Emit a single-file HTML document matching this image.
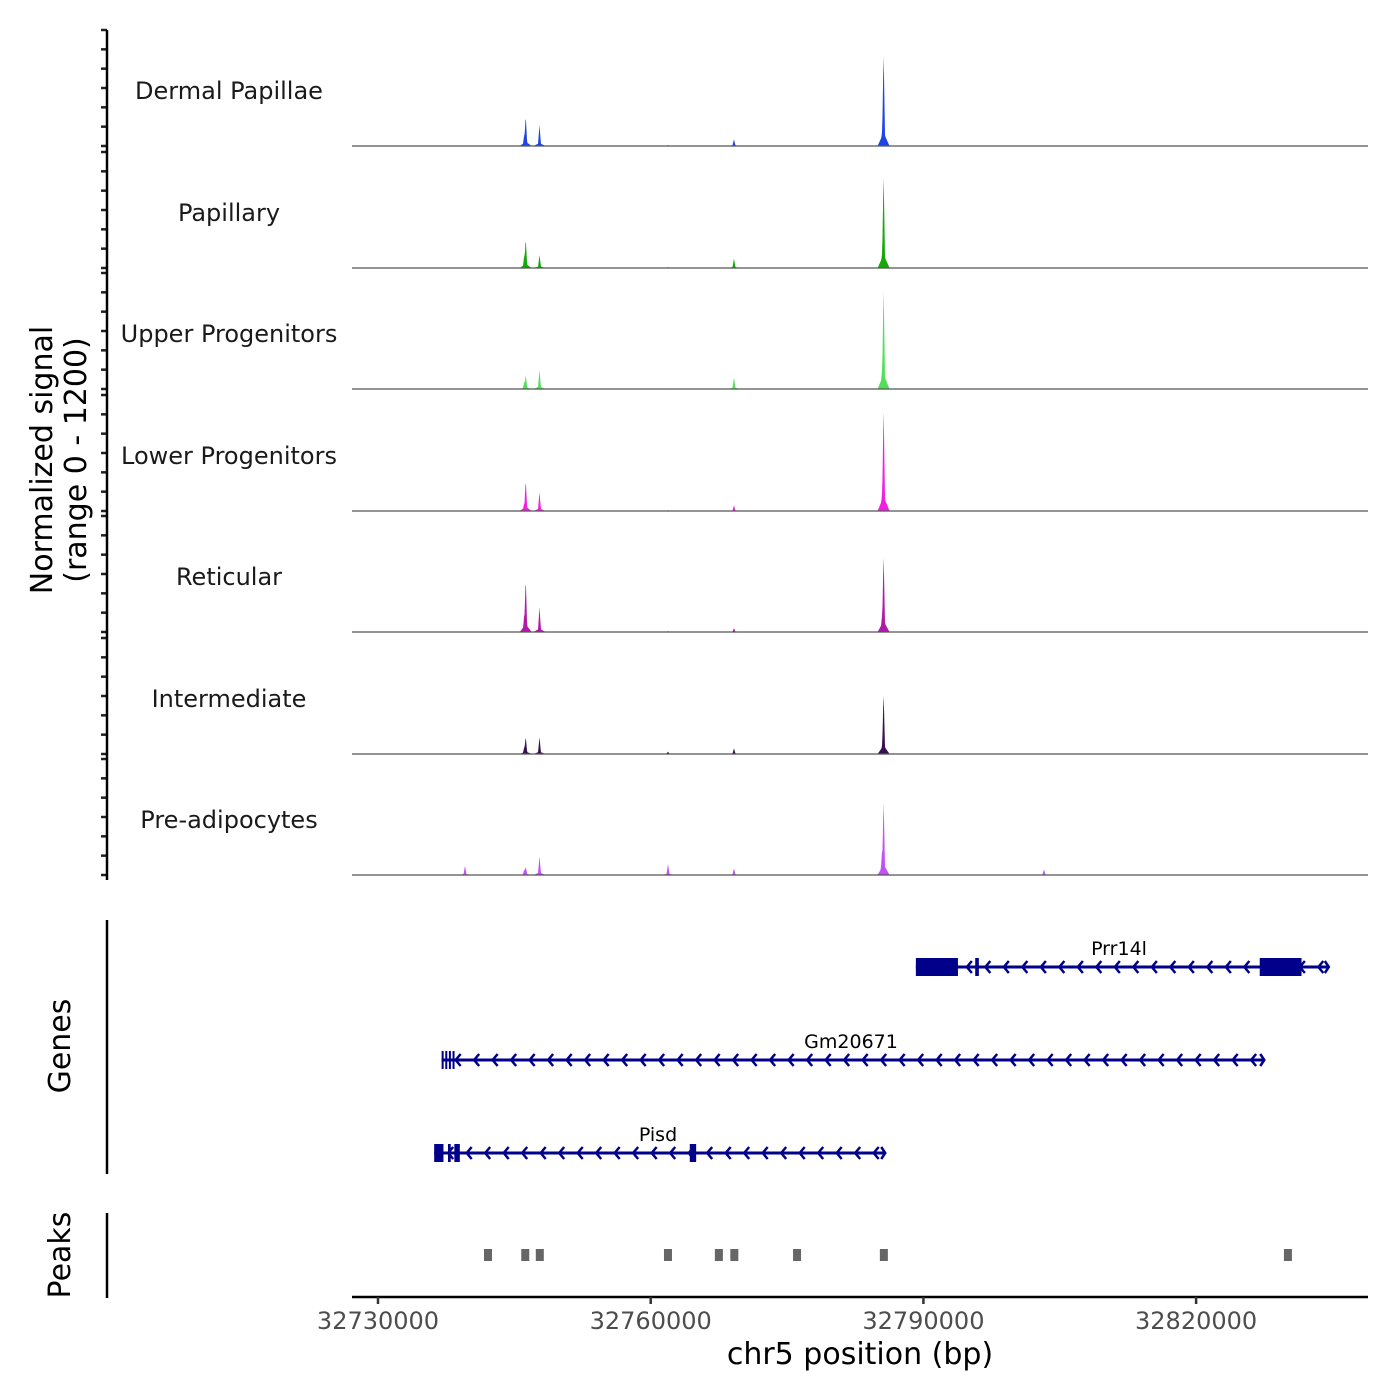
<!DOCTYPE html>
<html><head><meta charset="utf-8"><style>
html,body{margin:0;padding:0;background:#fff;}
svg{display:block;font-family:"DejaVu Sans","Liberation Sans",sans-serif;}
</style></head><body>
<svg id="chart" width="1400" height="1400" viewBox="0 0 1400 1400" xmlns="http://www.w3.org/2000/svg">
<rect width="1400" height="1400" fill="#fff"/>
<g id="tracks"></g>
<g id="genes"></g>
<g id="peaks"></g>
<g id="axes"></g>
</svg>
<script>
// ---- data ----
const trackNames = ["Dermal Papillae","Papillary","Upper Progenitors","Lower Progenitors","Reticular","Intermediate","Pre-adipocytes"];
const trackColors = ["#1d47e0","#14a80a","#52e05a","#f020e0","#b01aa8","#3a1050","#c252f5"];
const peakPositions = [32739570,32746100,32746250,32747765,32761900,32769160,32785450,32785620,32803260];
const dpValues   = [0,130,320,220,10,70,150,980,0];
const papValues  = [0,140,310,135,10,100,150,990,0];
const upValues   = [0,80,150,195,10,120,200,1075,0];
const lowValues  = [0,90,330,195,10,60,180,1085,0];
const retValues  = [0,200,570,260,10,40,170,815,0];
const intValues  = [0,80,185,175,25,60,90,640,0];
const preValues  = [95,60,90,195,115,70,240,785,60];
const seriesValues = [dpValues,papValues,upValues,lowValues,retValues,intValues,preValues];
const xTicks = [32730000,32760000,32790000,32820000];
const yMax = 1200;
const peakRegions = [32742100,32746200,32747800,32761900,32767500,32769200,32776100,32785650,32830100];
const geneNames = ["Prr14l","Gm20671","Pisd"];
const geneStarts = [32789170,32737000,32736180];
const geneEnds = [32834600,32827500,32785800];
const geneExons = [
  [[32789170,32793800],[32795700,32796100],[32827000,32831600]],
  [[32737000,32737150],[32737400,32737550],[32737800,32737950],[32738200,32738350]],
  [[32736180,32737200],[32737700,32738000],[32738400,32739000],[32764300,32765000]]
];
// ---- scales ----
const NS="http://www.w3.org/2000/svg";
const X0=378, PXBP=272.7/30000;
function xs(bp){return X0+(bp-32730000)*PXBP;}
const plotL=352, plotR=1368;
const trackBase=[146,268,389,511,632,754,875], trackH=116;
function el(tag,attrs,parent){const e=document.createElementNS(NS,tag);for(const k in attrs)e.setAttribute(k,attrs[k]);parent.appendChild(e);return e;}
const gT=document.getElementById('tracks');
trackNames.forEach((name,i)=>{
  const base=trackBase[i];
  const g=el('g',{},gT);
  
  
  const vals=seriesValues[i];
  let d='M'+plotL+','+base;
  for(let px=plotL;px<=plotR;px+=0.5){
    let v=0;
    peakPositions.forEach((p,j)=>{
      const h=vals[j]; if(!h) return;
      const dx=Math.abs(px-xs(p));
      const spike=h*Math.max(0,1-dx/1.6);
      const sh=h*0.14*Math.max(0,1-dx/6);
      v=Math.max(v,spike,sh);
    });
    d+=' L'+px+','+(base-v/yMax*trackH).toFixed(2);
  }
  d+=' L'+plotR+','+base+' Z';
  const a=el('path',{d:d,fill:trackColors[i],stroke:'none'},g);
  
  
  const bl=el('line',{x1:plotL,x2:plotR,y1:base,y2:base,stroke:'#555',"stroke-width":1.2},g);
  
  
  const t=el('text',{x:229,y:base-47,"text-anchor":"middle","font-size":24,fill:'#1a1a1a'},g);
  t.textContent=name;
  
  
  for(let k=0;k<=6;k++){
    const y=base-trackH*k/6;
    el('line',{x1:101,x2:107,y1:y,y2:y,stroke:'#222',"stroke-width":2.5},g);
  }
});
// genes
const gG=document.getElementById('genes');
const geneY=[967,1060,1153], labelX=[1119,851,658];
const GC='#00008B';
geneNames.forEach((n,i)=>{
  const g=el('g',{},gG);
  
  
  const y=geneY[i], x1=xs(geneStarts[i]), x2=xs(geneEnds[i]);
  el('line',{x1:x1,x2:x2,y1:y,y2:y,stroke:GC,"stroke-width":3},g);
  for(let x=x1+14;x<x2-4;x+=18.5){
    el('polyline',{points:(x+5)+','+(y-6)+' '+x+','+y+' '+(x+5)+','+(y+6),fill:'none',stroke:GC,"stroke-width":2.5},g);
  }
  el('polyline',{points:(x2-4)+','+(y-6)+' '+x2+','+y+' '+(x2-4)+','+(y+6),fill:'none',stroke:GC,"stroke-width":2.5},g);
  geneExons[i].forEach(e=>{
    const a=xs(e[0]),b=xs(e[1]); if(b<=a) return;
    el('rect',{x:a,y:y-9,width:Math.max(2,b-a),height:18,fill:GC},g);
  });
  const t=el('text',{x:labelX[i],y:y-12,"text-anchor":"middle","font-size":19,fill:'#000'},g);
  t.textContent=n;
  
  
});
// peaks
const gP=document.getElementById('peaks');
peakRegions.forEach(p=>{
  const r=el('rect',{x:xs(p)-4,y:1249,width:8,height:12,fill:'#666'},gP);
  
  
});
// axes
const gA=document.getElementById('axes');
function axLine(a,name){const l=el('line',a,gA);return l;}
axLine({x1:107,x2:107,y1:30,y2:880,stroke:'#000',"stroke-width":2.5},'y-axis-line');
axLine({x1:107,x2:107,y1:920,y2:1174,stroke:'#000',"stroke-width":2.5},'genes-axis-line');
axLine({x1:107,x2:107,y1:1213,y2:1298,stroke:'#000',"stroke-width":2.5},'peaks-axis-line');
axLine({x1:plotL,x2:plotR,y1:1297,y2:1297,stroke:'#000',"stroke-width":2.5},'x-axis-line');
xTicks.forEach(v=>{
  const x=xs(v);
  el('line',{x1:x,x2:x,y1:1297,y2:1304,stroke:'#333',"stroke-width":2.5},gA);
  const t=el('text',{x:x,y:1329,"text-anchor":"middle","font-size":24,fill:'#4d4d4d'},gA);
  t.textContent=v;
  
  
});
function txt(s,a,name){const t=el('text',a,gA);t.textContent=s;return t;}
txt('chr5 position (bp)',{x:860,y:1364,"text-anchor":"middle","font-size":30,fill:'#000'},'x-axis-title');
const yt=el('text',{transform:'translate(52,460) rotate(-90)',"text-anchor":"middle","font-size":30,fill:'#000'},gA);


const s1=el('tspan',{x:0,y:0},yt);s1.textContent='Normalized signal';
const s2=el('tspan',{x:0,y:34},yt);s2.textContent='(range 0 - 1200)';
txt('Genes',{transform:'translate(70,1046) rotate(-90)',"text-anchor":"middle","font-size":30,fill:'#000'},'genes-axis-title');
txt('Peaks',{transform:'translate(70,1255) rotate(-90)',"text-anchor":"middle","font-size":30,fill:'#000'},'peaks-axis-title');
</script>
</body></html>
